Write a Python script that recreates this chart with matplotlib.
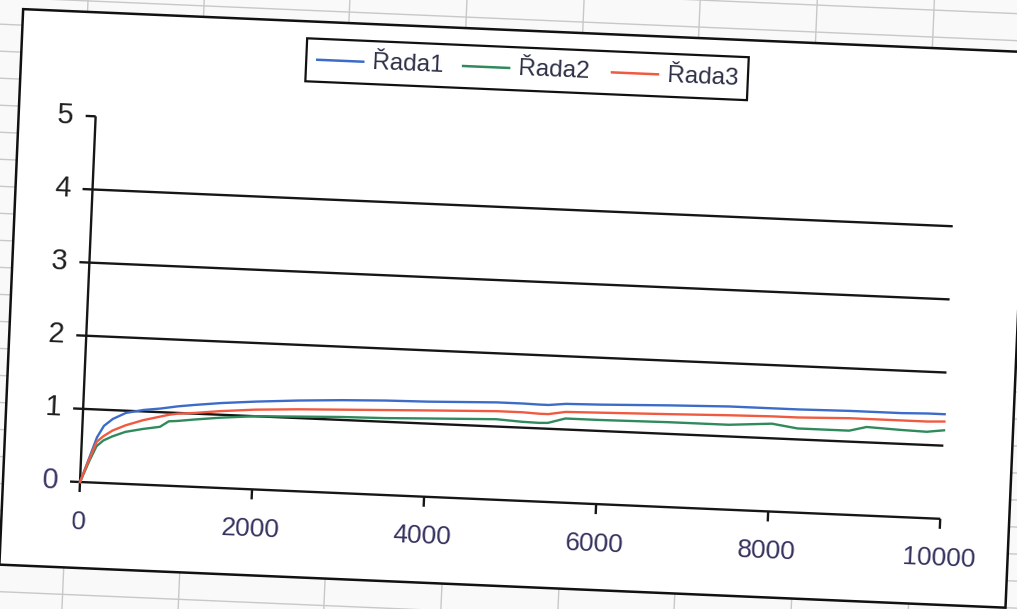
import numpy as np
import matplotlib.pyplot as plt
from matplotlib.transforms import Affine2D, ScaledTranslation
from matplotlib.patches import Rectangle

plt.rcParams["font.family"] = ["Liberation Sans", "DejaVu Sans"]

# values (x = step, y = value)
x_vals = [0, 100, 175, 250, 350, 500, 700, 900, 1000, 1100, 1300, 1600, 2000, 2500,
          3000, 3500, 4000, 4800, 5100, 5300, 5400, 5600, 6000, 6800, 7500, 8000,
          8300, 8900, 9100, 9500, 9800, 10000]
rada1 = [0, 0.35, 0.62, 0.78, 0.88, 0.97, 1.02, 1.05, 1.07, 1.09, 1.12, 1.16, 1.20, 1.24,
         1.27, 1.29, 1.30, 1.33, 1.33, 1.325, 1.325, 1.35, 1.36, 1.39, 1.41, 1.41,
         1.41, 1.42, 1.42, 1.42, 1.43, 1.43]
rada2 = [0, 0.30, 0.50, 0.58, 0.64, 0.71, 0.76, 0.80, 0.88, 0.89, 0.92, 0.96, 1.00, 1.02,
         1.04, 1.05, 1.07, 1.10, 1.08, 1.075, 1.08, 1.15, 1.15, 1.16, 1.16, 1.20,
         1.15, 1.15, 1.21, 1.19, 1.18, 1.21]
rada3 = [0, 0.33, 0.56, 0.64, 0.72, 0.80, 0.88, 0.94, 0.97, 0.99, 1.01, 1.05, 1.09, 1.12,
         1.14, 1.16, 1.18, 1.21, 1.21, 1.20, 1.20, 1.24, 1.25, 1.27, 1.29, 1.30,
         1.30, 1.32, 1.32, 1.32, 1.32, 1.33]
series_names = ["Řada1", "Řada2", "Řada3"]
series_colors = ["#3d6cc8", "#2f8a5c", "#f05a40"]
x_ticks = [0, 2000, 4000, 6000, 8000, 10000]
y_ticks = [0, 1, 2, 3, 4, 5]

W, H = 1017, 609
angle = -2.45        # the screen photo is tilted clockwise
ox, oy = 80, 127     # pixel position of the plot origin

fig = plt.figure(figsize=(W / 100, H / 100), dpi=100)
fig.patch.set_facecolor("#f9f9f9")

rot = Affine2D().rotate_deg_around(ox, oy, angle)
frame = Affine2D().translate(ox, oy) + rot   # pixels relative to the origin, before tilt

bg = fig.add_axes([0, 0, 1, 1])
bg.axis("off")

# spreadsheet cells behind the chart
grid_kw = dict(transform=frame, color="#c8c8c8", lw=1, zorder=1)
for cx in [-130, -12.6, 103.5, 249, 366, 483, 599, 716, 833, 950, 1067]:
    bg.plot([cx, cx], [-200, 600], **grid_kw)
for ry in np.arange(-194, 600, 27):
    bg.plot([-200, 1150], [ry, ry], **grid_kw)

# chart area
bg.add_patch(Rectangle((-77, -86), 1007, 556, transform=frame, facecolor="white",
                       edgecolor="#111111", lw=1.8, zorder=2))

# legend
bg.add_patch(Rectangle((208, 410), 442, 43, transform=frame, facecolor="white",
                       edgecolor="#111111", lw=1.6, zorder=3))
for lx, name, col in zip([219, 365, 514], series_names, series_colors):
    bg.plot([lx, lx + 46], [432, 432], transform=frame, color=col, lw=1.8, zorder=4)
    bg.text(lx + 55, 431, name, transform=frame, ha="left", va="center",
            rotation=angle, rotation_mode="anchor", fontsize=17.5, color="#2c2f45", zorder=4)

# plot area
ax = fig.add_axes([ox / W, oy / H, 861 / W, 366 / H])
ax.set_xlim(0, 10000)
ax.set_ylim(0, 5)
ax.axis("off")
T = ax.transData + rot

tick_x, tick_y = 116, 0.137
line_kw = dict(transform=T, clip_on=False, color="#161616", lw=1.7, solid_capstyle="butt")
for k in y_ticks[1:5]:
    ax.plot([-tick_x, 10000], [k, k], **line_kw)
ax.plot([-tick_x, 0], [5, 5], **line_kw)
ax.plot([0, 0], [-tick_y, 5], **line_kw)
ax.plot([-tick_x, 10000], [0, 0], **line_kw)
for t in x_ticks[1:]:
    ax.plot([t, t], [0, -tick_y], **line_kw)

for vals, col in zip([rada1, rada2, rada3], series_colors):
    ax.plot(x_vals, vals, transform=T, clip_on=False, color=col, lw=1.7, zorder=3)


def shifted(dx, dy):
    return ax.transData + ScaledTranslation(dx / 100, dy / 100, fig.dpi_scale_trans) + rot


for k in y_ticks:
    ax.text(0, k, str(k), transform=shifted(-22, 0), ha="right", va="center",
            rotation=angle, rotation_mode="anchor", fontsize=21,
            color="#3b3768" if k == 0 else "#1e1e1e")
for t in x_ticks:
    ax.text(t, 0, str(t), transform=shifted(0, -40), ha="center", va="center",
            rotation=angle, rotation_mode="anchor", fontsize=19, color="#35325f")

plt.savefig("out.png", dpi=100)
